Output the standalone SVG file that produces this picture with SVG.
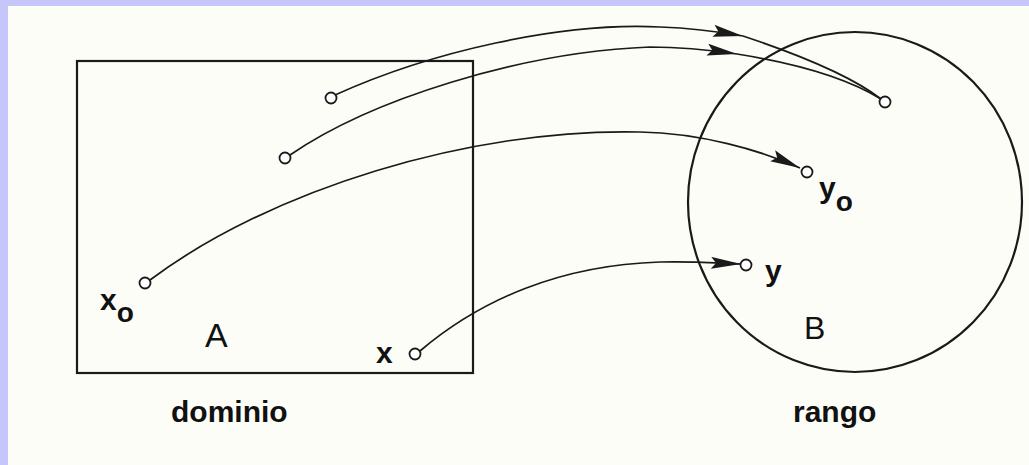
<svg xmlns="http://www.w3.org/2000/svg" width="1029" height="465" viewBox="0 0 1029 465">
  <style>
    .ln { fill: none; stroke: #1a1a1a; stroke-width: 1.7; }
    .shape { fill: none; stroke: #1a1a1a; stroke-width: 2.2; }
    .pt { fill: #ffffff; stroke: #1a1a1a; stroke-width: 1.8; }
    .lbl { font-family: "Liberation Sans", Arial, sans-serif; font-weight: bold; fill: #111; }
    .big { font-family: "Liberation Sans", Arial, sans-serif; font-weight: normal; fill: #111; }
  </style>
  <defs>
    <marker id="arr" markerUnits="userSpaceOnUse" markerWidth="32" markerHeight="14" refX="30" refY="6" orient="auto">
      <path d="M0,0 L30,6 L0,12 L5,6 z" fill="#1a1a1a"/>
    </marker>
  </defs>
  <rect x="0" y="0" width="1029" height="465" fill="#c6c6fb"/>
  <rect x="8" y="6" width="1021" height="459" fill="#fdfdf8"/>

  <g id="domain">
    <rect x="77" y="61" width="396" height="312" class="shape"/>
    <text x="205" y="347" class="big" font-size="34">A</text>
    <text x="171" y="422" class="lbl" font-size="30">dominio</text>
  </g>
  <g id="range">
    <ellipse cx="855" cy="202" rx="167" ry="170" class="shape"/>
    <text x="804" y="339" class="big" font-size="32">B</text>
    <text x="793" y="422" class="lbl" font-size="30">rango</text>
  </g>

  <g id="connectors">
    <path class="ln" d="M335,95 C430,52 560,22 660,27 C690,28 715,31 743,36" marker-end="url(#arr)"/>
    <path class="ln" d="M743,36 C800,55 850,75 881,99"/>
    <path class="ln" d="M290,155 C370,100 520,52 650,47 C680,47 710,50 737,54" marker-end="url(#arr)"/>
    <path class="ln" d="M737,54 C800,64 850,80 881,99"/>
    <path class="ln" d="M150,280 C270,190 470,128 640,132 C700,133 760,150 800,168" marker-end="url(#arr)"/>
    <path class="ln" d="M420,351 C480,300 560,265 660,262 C690,261 715,263 741,264" marker-end="url(#arr)"/>
  </g>

  <g id="p1"><circle cx="331" cy="98" r="5.5" class="pt"/></g>
  <g id="p2"><circle cx="285" cy="158" r="5.5" class="pt"/></g>
  <g id="x0">
    <circle cx="145" cy="283" r="5.5" class="pt"/>
    <text x="100" y="310" class="lbl" font-size="30">x<tspan dy="12" font-size="28">o</tspan></text>
  </g>
  <g id="x">
    <circle cx="415" cy="354" r="5.5" class="pt"/>
    <text x="376" y="363" class="lbl" font-size="30">x</text>
  </g>
  <g id="q1"><circle cx="885" cy="102" r="5.5" class="pt"/></g>
  <g id="y0">
    <circle cx="807" cy="172" r="5.5" class="pt"/>
    <text x="819" y="198" class="lbl" font-size="30">y<tspan dy="13" font-size="28">o</tspan></text>
  </g>
  <g id="y">
    <circle cx="746" cy="265" r="5.5" class="pt"/>
    <text x="765" y="281" class="lbl" font-size="30">y</text>
  </g>
</svg>
